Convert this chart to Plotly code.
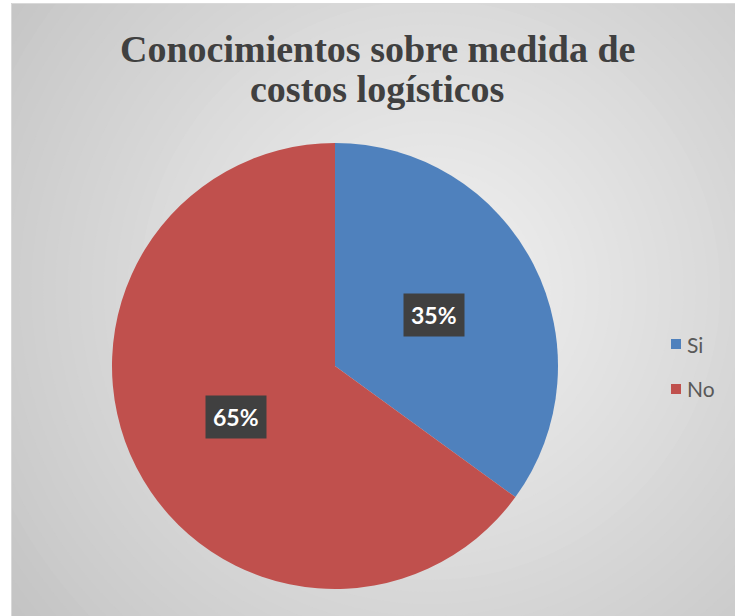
import math
import plotly.graph_objects as go

# ---- data ----
categories = ["Si", "No"]
values = [35, 65]
colors = ["#4F81BD", "#C0504D"]
title_lines = ["Conocimientos sobre medida de", "costos logísticos"]

# ---- canvas ----
W, H = 735, 616
PIE_CX, PIE_CY, PIE_R = 335, 366, 223  # pixels, from top-left


def px_x(x):
    return x / W


def px_y(y):
    return 1 - y / H


fig = go.Figure()

fig.add_trace(go.Pie(
    labels=categories,
    values=values,
    marker=dict(colors=colors, line=dict(width=0)),
    sort=False,
    direction="clockwise",
    rotation=0,
    textinfo="none",
    hoverinfo="label+percent",
    showlegend=False,
    domain=dict(x=[px_x(PIE_CX - PIE_R), px_x(PIE_CX + PIE_R)],
                y=[px_y(PIE_CY + PIE_R), px_y(PIE_CY - PIE_R)]),
))

shapes = []

# radial grey background of the chart area
area_x0, area_y0 = 11, 3
gcx, gcy = 430, 290
r_max = 580
c_in, c_out = 0xF3, 0xC0
steps = 48
for k in range(steps, 0, -1):
    r = r_max * k / steps
    t = k / steps
    g = round(c_in + (c_out - c_in) * t)
    col = f"rgb({g},{g},{g})"
    shapes.append(dict(type="circle", xref="paper", yref="paper", layer="below",
                       x0=px_x(gcx - r), x1=px_x(gcx + r),
                       y0=px_y(gcy + r), y1=px_y(gcy - r),
                       fillcolor=col, line=dict(width=0)))

# white margins left and top of the chart area
shapes.append(dict(type="rect", xref="paper", yref="paper", layer="below",
                   x0=0, x1=px_x(area_x0), y0=0, y1=1,
                   fillcolor="white", line=dict(width=0)))
shapes.append(dict(type="rect", xref="paper", yref="paper", layer="below",
                   x0=0, x1=1, y0=px_y(area_y0), y1=1,
                   fillcolor="white", line=dict(width=0)))
# thin chart-area border
shapes.append(dict(type="rect", xref="paper", yref="paper", layer="below",
                   x0=px_x(area_x0 + 0.5), x1=px_x(W + 2),
                   y0=px_y(H + 2), y1=px_y(area_y0 + 0.5),
                   fillcolor="rgba(0,0,0,0)", line=dict(color="#D9D9D9", width=1)))

annotations = []

# title
title_baselines = [49, 89]
for line, yb in zip(title_lines, title_baselines):
    annotations.append(dict(text=f"<b>{line}</b>", xref="paper", yref="paper",
                            x=px_x(377), y=px_y(yb), xanchor="center", yanchor="middle",
                            showarrow=False,
                            font=dict(family="Liberation Serif", size=38, color="#404040")))

# data labels on dark boxes, placed at half radius along each slice's mid-angle
total = sum(values)
cum = 0
for v in values:
    theta = 2 * math.pi * (cum + v / 2) / total
    cum += v
    lx = PIE_CX + 0.5 * PIE_R * math.sin(theta)
    ly = PIE_CY - 0.5 * PIE_R * math.cos(theta)
    pct = round(100 * v / total)
    annotations.append(dict(text=f"<b>{pct}%</b>", xref="paper", yref="paper",
                            x=px_x(lx), y=px_y(ly), xanchor="center", yanchor="middle",
                            showarrow=False, bgcolor="#404040", borderpad=7,
                            font=dict(family="Lato", size=23, color="white")))

# legend
leg_x, leg_y0, leg_gap, sq = 671, 344, 45, 10
for i, (name, col) in enumerate(zip(categories, colors)):
    yc = leg_y0 + i * leg_gap
    shapes.append(dict(type="rect", xref="paper", yref="paper",
                       x0=px_x(leg_x), x1=px_x(leg_x + sq),
                       y0=px_y(yc + sq / 2), y1=px_y(yc - sq / 2),
                       fillcolor=col, line=dict(width=0)))
    annotations.append(dict(text=name, xref="paper", yref="paper",
                            x=px_x(leg_x + sq + 4), y=px_y(yc), xanchor="left", yanchor="middle",
                            showarrow=False,
                            font=dict(family="Lato", size=21, color="#595959")))

fig.update_layout(
    width=W, height=H,
    margin=dict(l=0, r=0, t=0, b=0),
    paper_bgcolor="white",
    plot_bgcolor="rgba(0,0,0,0)",
    shapes=shapes,
    annotations=annotations,
    showlegend=False,
)

fig.write_html("out.html")
